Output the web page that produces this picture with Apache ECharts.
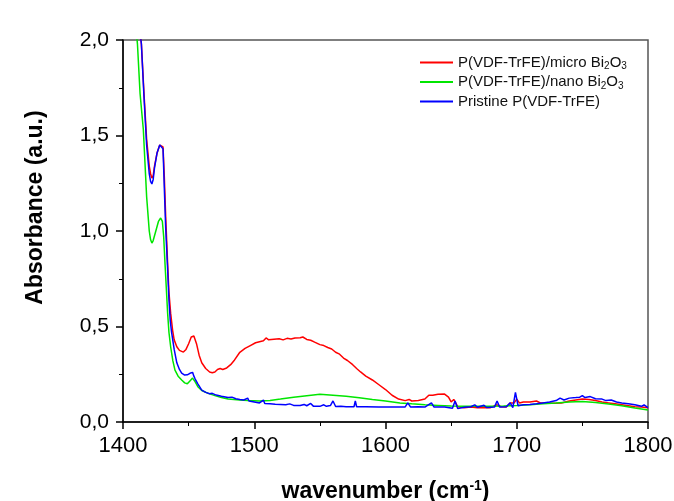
<!DOCTYPE html>
<html>
<head>
<meta charset="utf-8">
<script src="https://cdn.jsdelivr.net/npm/echarts@6/dist/echarts.min.js"></script>
<style>
  html, body { margin: 0; padding: 0; background: #fff; }
  #chart { width: 674px; height: 501px; }
</style>
</head>
<body>
<div id="chart"></div>
<script>
// [wavenumber, absorbance]
var microBi2O3 = [
  [1412, 2.1], [1414, 1.98], [1416, 1.72], [1418, 1.48], [1420, 1.34], [1421, 1.3], [1422, 1.277],
  [1423, 1.29], [1424, 1.34], [1426, 1.41], [1428, 1.45], [1429.5, 1.46], [1430.5, 1.44], [1431.5, 1.28],
  [1432.5, 1.08], [1434, 0.83], [1435, 0.68], [1436.3, 0.57], [1437.8, 0.48], [1439, 0.43], [1441, 0.394],
  [1443, 0.375], [1446, 0.366], [1448, 0.38], [1450, 0.41], [1452, 0.445], [1453, 0.455], [1454, 0.45],
  [1456, 0.41], [1458, 0.35], [1460, 0.31], [1463, 0.28], [1466, 0.262], [1468, 0.258], [1470, 0.262],
  [1472, 0.275], [1474, 0.28], [1476, 0.275], [1479, 0.283], [1482, 0.3], [1485, 0.325], [1489, 0.365],
  [1493, 0.385], [1497, 0.4], [1501, 0.415], [1504, 0.42], [1507, 0.425], [1509, 0.44], [1511, 0.43],
  [1515, 0.433], [1519, 0.436], [1522, 0.43], [1525, 0.438], [1528, 0.435], [1531, 0.44], [1535, 0.441],
  [1537, 0.445], [1540, 0.432], [1543, 0.428], [1546, 0.418], [1550, 0.405], [1553, 0.4], [1556, 0.39],
  [1559, 0.382], [1562, 0.365], [1565, 0.355], [1568, 0.335], [1571, 0.322], [1575, 0.3], [1578, 0.28],
  [1581, 0.262], [1585, 0.24], [1590, 0.22], [1595, 0.195], [1600, 0.17], [1605, 0.14], [1610, 0.12],
  [1615, 0.112], [1618, 0.118], [1620, 0.11], [1625, 0.113], [1630, 0.12], [1633, 0.14], [1636, 0.14],
  [1640, 0.145], [1645, 0.146], [1648, 0.13], [1650, 0.105], [1652, 0.118], [1655, 0.08], [1660, 0.075],
  [1665, 0.078], [1670, 0.074], [1675, 0.076], [1680, 0.075], [1685, 0.09], [1688, 0.08], [1692, 0.078],
  [1695, 0.1], [1698, 0.1], [1700, 0.12], [1702, 0.1], [1705, 0.105], [1710, 0.105], [1715, 0.11],
  [1718, 0.1], [1722, 0.1], [1728, 0.098], [1734, 0.1], [1740, 0.11], [1745, 0.115], [1750, 0.12],
  [1755, 0.118], [1760, 0.112], [1765, 0.105], [1770, 0.1], [1775, 0.095], [1780, 0.09], [1785, 0.085],
  [1790, 0.08], [1795, 0.078], [1800, 0.075]
];

var nanoBi2O3 = [
  [1410, 2.05], [1411, 1.98], [1413, 1.72], [1415.5, 1.53], [1418, 1.18], [1420, 1.0], [1421, 0.955],
  [1422, 0.937], [1423, 0.95], [1425, 1.0], [1427, 1.05], [1428.7, 1.068], [1430, 1.05], [1431, 0.97],
  [1432, 0.83], [1433, 0.7], [1434, 0.57], [1435, 0.47], [1436.3, 0.394], [1438, 0.32], [1439.6, 0.272],
  [1442, 0.24], [1444.7, 0.22], [1447, 0.205], [1449, 0.2], [1451, 0.215], [1453, 0.23], [1455, 0.21],
  [1457, 0.185], [1460, 0.165], [1465, 0.15], [1470, 0.138], [1475, 0.128], [1480, 0.12], [1489, 0.115],
  [1495, 0.112], [1504, 0.11], [1512, 0.113], [1520, 0.12], [1530, 0.13], [1540, 0.138], [1550, 0.145],
  [1560, 0.14], [1570, 0.135], [1580, 0.127], [1590, 0.118], [1600, 0.11], [1611, 0.1], [1620, 0.095],
  [1630, 0.09], [1640, 0.087], [1650, 0.084], [1660, 0.083], [1670, 0.083], [1680, 0.083], [1690, 0.084],
  [1700, 0.086], [1710, 0.09], [1720, 0.096], [1730, 0.1], [1740, 0.105], [1750, 0.107], [1760, 0.102],
  [1770, 0.094], [1780, 0.085], [1790, 0.073], [1800, 0.063]
];

var pristine = [
  [1412, 2.1], [1414, 1.98], [1416, 1.7], [1418, 1.45], [1420, 1.3], [1421, 1.26], [1422, 1.246],
  [1423, 1.27], [1424, 1.33], [1426, 1.41], [1428, 1.45], [1429.5, 1.46], [1430.5, 1.43], [1431.5, 1.22],
  [1432.5, 1.02], [1434, 0.8], [1435, 0.64], [1436, 0.53], [1437, 0.47], [1439, 0.38], [1441, 0.31],
  [1443, 0.275], [1444.7, 0.256], [1447, 0.246], [1449, 0.247], [1451, 0.255], [1453, 0.26], [1454, 0.24],
  [1455, 0.225], [1456, 0.235], [1457, 0.2], [1460, 0.167], [1463, 0.155], [1466, 0.148], [1468, 0.15],
  [1471, 0.141], [1475, 0.135], [1480, 0.128], [1483, 0.13], [1486, 0.122], [1489, 0.118], [1492, 0.115],
  [1495, 0.125], [1496, 0.11], [1500, 0.105], [1504, 0.1], [1507, 0.115], [1508, 0.097], [1512, 0.095],
  [1516, 0.093], [1520, 0.092], [1524, 0.09], [1527, 0.095], [1530, 0.087], [1535, 0.086], [1538, 0.092],
  [1540, 0.085], [1543, 0.097], [1545, 0.083], [1550, 0.082], [1553, 0.09], [1555, 0.082], [1558, 0.086],
  [1560, 0.11], [1562, 0.081], [1566, 0.082], [1570, 0.08], [1576, 0.08], [1577, 0.11], [1578, 0.08],
  [1585, 0.08], [1595, 0.079], [1605, 0.079], [1615, 0.079], [1617, 0.1], [1619, 0.079], [1625, 0.08],
  [1630, 0.078], [1635, 0.1], [1637, 0.078], [1645, 0.078], [1651, 0.072], [1653, 0.11], [1655, 0.07],
  [1660, 0.077], [1665, 0.08], [1668, 0.09], [1670, 0.077], [1675, 0.088], [1677, 0.076], [1683, 0.078],
  [1685, 0.11], [1687, 0.078], [1692, 0.08], [1695, 0.1], [1697, 0.075], [1699, 0.155], [1701, 0.085],
  [1705, 0.09], [1710, 0.092], [1715, 0.095], [1720, 0.1], [1725, 0.105], [1730, 0.112], [1733, 0.125],
  [1736, 0.115], [1740, 0.125], [1745, 0.128], [1748, 0.13], [1750, 0.138], [1752, 0.128], [1756, 0.133],
  [1760, 0.122], [1765, 0.12], [1768, 0.112], [1772, 0.115], [1776, 0.105], [1780, 0.1], [1785, 0.095],
  [1790, 0.09], [1795, 0.082], [1797, 0.09], [1800, 0.075]
];

var seriesNames = ['P(VDF-TrFE)/micro Bi2O3', 'P(VDF-TrFE)/nano Bi2O3', 'Pristine P(VDF-TrFE)'];
var legendLabels = [
  '{a|P(VDF-TrFE)/micro Bi}{s|2}{a|O}{s|3}',
  '{a|P(VDF-TrFE)/nano Bi}{s|2}{a|O}{s|3}',
  '{a|Pristine P(VDF-TrFE)}'
];
var seriesColors = ['#ff0000', '#00e600', '#0000ff'];

var chart = echarts.init(document.getElementById('chart'));
var font = 'Liberation Sans, Arial, sans-serif';

function lineSeries(i, data) {
  return {
    name: seriesNames[i],
    type: 'line',
    data: data,
    showSymbol: false,
    symbol: 'none',
    clip: true,
    lineStyle: { color: seriesColors[i], width: 1.5 },
    itemStyle: { color: seriesColors[i] },
    z: 3 + i
  };
}

chart.setOption({
  backgroundColor: '#fff',
  animation: false,
  grid: {
    left: 123, right: 26, top: 40, bottom: 79,
    outerBoundsMode: 'none',
    show: true, borderColor: '#555', borderWidth: 1.5, backgroundColor: 'transparent'
  },
  legend: {
    orient: 'vertical',
    left: 415, top: 50,
    itemWidth: 33, itemHeight: 2,
    itemGap: 3,
    icon: 'rect',
    data: seriesNames,
    formatter: function(name) {
      return legendLabels[seriesNames.indexOf(name)];
    },
    textStyle: {
      fontFamily: font,
      rich: {
        a: { fontSize: 15, color: '#111', fontFamily: font },
        s: { fontSize: 10, color: '#111', fontFamily: font, padding: [8, 0, 0, 0] }
      }
    }
  },
  xAxis: {
    type: 'value',
    min: 1400, max: 1800, interval: 100,
    name: 'wavenumber (cm{sup|-1})',
    nameLocation: 'middle',
    nameGap: 57,
    nameTextStyle: {
      fontFamily: font, fontSize: 23, fontWeight: 'bold', color: '#000',
      rich: { sup: { fontSize: 14, fontWeight: 'bold', color: '#000', fontFamily: font, padding: [0, 0, 12, 0] } }
    },
    axisLine: { lineStyle: { color: '#000', width: 1.5 } },
    axisTick: { length: 7, lineStyle: { color: '#000', width: 1.5 } },
    minorTick: { show: true, splitNumber: 2, length: 4, lineStyle: { color: '#000', width: 1 } },
    splitLine: { show: false },
    axisLabel: {
      fontFamily: font, fontSize: 22, color: '#000', margin: 13,
      formatter: function(v) { return String(v); }
    }
  },
  yAxis: {
    type: 'value',
    min: 0, max: 2, interval: 0.5,
    name: 'Absorbance (a.u.)',
    nameLocation: 'middle',
    nameGap: 76,
    nameTextStyle: { fontFamily: font, fontSize: 23, fontWeight: 'bold', color: '#000', padding: [0, 0, 0, 47] },
    axisLine: { show: true, lineStyle: { color: '#000', width: 1.5 } },
    axisTick: { show: true, length: 7, lineStyle: { color: '#000', width: 1.5 } },
    minorTick: { show: true, splitNumber: 2, length: 4, lineStyle: { color: '#000', width: 1 } },
    splitLine: { show: false },
    axisLabel: {
      fontFamily: font, fontSize: 21, color: '#000', margin: 14,
      formatter: function(v) { return v.toFixed(1).replace('.', ','); }
    }
  },
  series: [
    lineSeries(0, microBi2O3),
    lineSeries(1, nanoBi2O3),
    lineSeries(2, pristine)
  ]
});
</script>
</body>
</html>
